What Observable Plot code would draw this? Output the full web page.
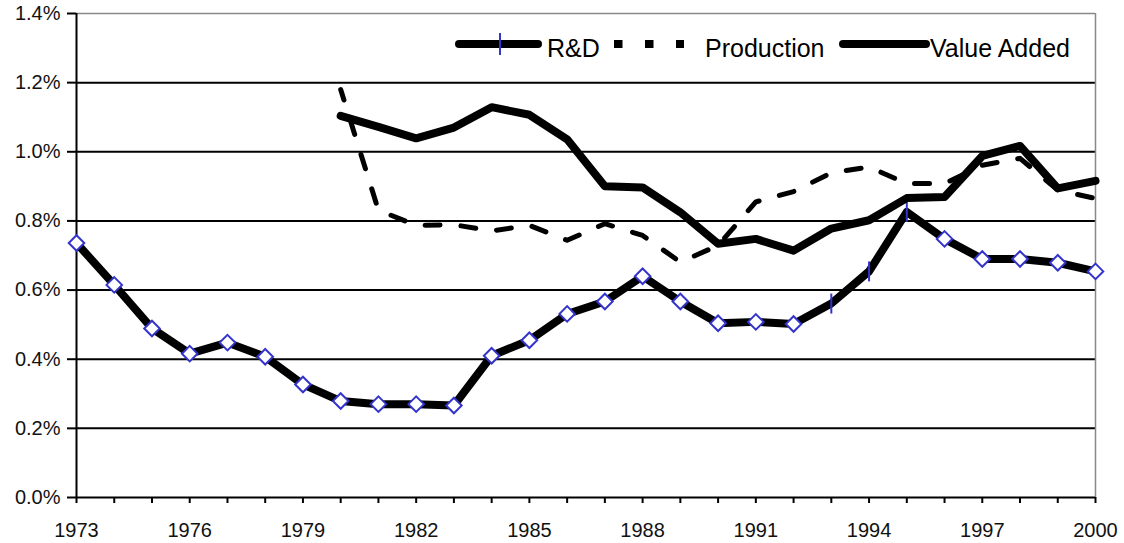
<!DOCTYPE html>
<html>
<head>
<meta charset="utf-8">
<script src="https://cdn.jsdelivr.net/npm/d3@7"></script>
<script src="https://cdn.jsdelivr.net/npm/@observablehq/plot@0.6"></script>
<style>
  html, body { margin: 0; padding: 0; background: #fff; }
  #wrap { position: relative; width: 1124px; height: 543px; font-family: "Liberation Sans", Arial, sans-serif; }
  #legend { position: absolute; left: 0; top: 0; pointer-events: none; }
</style>
</head>
<body>
<div id="wrap"></div>
<script>
// ---- data (in %) ----
const years = [1973,1974,1975,1976,1977,1978,1979,1980,1981,1982,1983,1984,1985,1986,1987,1988,1989,1990,1991,1992,1993,1994,1995,1996,1997,1998,1999,2000];
const rdValues = [0.736,0.615,0.489,0.416,0.448,0.407,0.327,0.279,0.270,0.270,0.266,0.410,0.455,0.531,0.567,0.640,0.567,0.504,0.508,0.502,0.561,0.654,0.826,0.748,0.690,0.690,0.679,0.654];
const rdTickYears = [1993,1994,1995];
const laterYears = [1980,1981,1982,1983,1984,1985,1986,1987,1988,1989,1990,1991,1992,1993,1994,1995,1996,1997,1998,1999,2000];
const productionValues = [1.18,0.831,0.787,0.789,0.771,0.787,0.744,0.792,0.758,0.681,0.729,0.855,0.885,0.939,0.956,0.908,0.908,0.961,0.981,0.889,0.865];
const valueAddedValues = [1.104,1.072,1.039,1.070,1.129,1.107,1.036,0.900,0.897,0.825,0.734,0.748,0.714,0.778,0.802,0.866,0.869,0.988,1.017,0.894,0.916];
const yTicks = [0,0.2,0.4,0.6,0.8,1.0,1.2,1.4];
const xLabelYears = [1973,1976,1979,1982,1985,1988,1991,1994,1997,2000];
const seriesNames = ["R&D","Production","Value Added"];

const rd = years.map((y,i) => ({year:y, v:rdValues[i], tick: rdTickYears.includes(y)}));
const prod = laterYears.map((y,i) => ({year:y, v:productionValues[i]}));
const va = laterYears.map((y,i) => ({year:y, v:valueAddedValues[i]}));

const blue = "#3434cc";
const vTick = { draw(ctx, size) { const h = Math.sqrt(size / Math.PI); ctx.moveTo(0, -h); ctx.lineTo(0, h); } };

const chart = Plot.plot({
  width: 1124, height: 543,
  marginLeft: 76, marginRight: 29, marginTop: 13, marginBottom: 46,
  style: { fontFamily: "Liberation Sans, Arial, sans-serif", fontSize: "20px", color: "#111", background: "#fff" },
  x: { type: "linear", domain: [1973, 2000] },
  y: { domain: [0, 1.4] },
  marks: [
    Plot.ruleY(yTicks.filter(d => d > 0 && d < 1.4), { stroke: "#000", strokeWidth: 2 }),
    Plot.ruleY([1.4], { stroke: "#888", strokeWidth: 1.5 }),
    Plot.ruleX([2000], { stroke: "#888", strokeWidth: 1.5 }),
    Plot.axisY({ ticks: yTicks, tickFormat: d => d.toFixed(1) + "%", tickSize: 9, tickPadding: 7, stroke: "#000", strokeWidth: 2, label: null, fontSize: 20 }),
    Plot.axisX({ ticks: years, tickFormat: d => xLabelYears.includes(d) ? String(d) : "", tickSize: 6, tickPadding: 19, stroke: "#000", strokeWidth: 2, label: null, fontSize: 20 }),
    Plot.ruleX([1973], { stroke: "#000", strokeWidth: 2 }),
    Plot.ruleY([0], { stroke: "#000", strokeWidth: 2 }),
    Plot.line(rd, { x: "year", y: "v", stroke: "#000", strokeWidth: 8, strokeLinejoin: "round", strokeLinecap: "round" }),
    Plot.dot(rd.filter(d => !d.tick), { x: "year", y: "v", symbol: "diamond2", r: 7, fill: "#fff", stroke: blue, strokeWidth: 2 }),
    Plot.dot(rd.filter(d => d.tick), { x: "year", y: "v", symbol: vTick, r: 10, stroke: blue, strokeWidth: 2 }),
    Plot.line(prod, { x: "year", y: "v", stroke: "#000", strokeWidth: 5, strokeDasharray: "15,21", strokeDashoffset: 4 }),
    Plot.line(va, { x: "year", y: "v", stroke: "#000", strokeWidth: 8, strokeLinejoin: "round", strokeLinecap: "round" })
  ]
});
chart.querySelectorAll("text").forEach(t => {
  t.style.fontSize = "20px";
  t.style.fontFamily = "Liberation Sans, Arial, sans-serif";
  t.style.fill = "#111";
});
const wrap = document.getElementById("wrap");
wrap.appendChild(chart);

// ---- legend (overlay) ----
const ns = "http://www.w3.org/2000/svg";
const lg = document.createElementNS(ns, "svg");
lg.setAttribute("id", "legend");
lg.setAttribute("width", 1124); lg.setAttribute("height", 80);
function el(tag, attrs, parent) {
  const e = document.createElementNS(ns, tag);
  for (const k in attrs) e.setAttribute(k, attrs[k]);
  parent.appendChild(e);
  return e;
}
const ly = 44;
el("line", {x1: 459, x2: 538, y1: ly, y2: ly, stroke: "#000", "stroke-width": 8, "stroke-linecap": "round"}, lg);
el("line", {x1: 500, x2: 500, y1: ly - 11, y2: ly + 11, stroke: blue, "stroke-width": 2}, lg);
el("text", {x: 547, y: 57, "font-size": 25, "font-family": "Liberation Sans, Arial, sans-serif", fill: "#000"}, lg).textContent = seriesNames[0];
el("line", {x1: 614, x2: 684, y1: ly, y2: ly, stroke: "#000", "stroke-width": 8, "stroke-dasharray": "8.5,22.5"}, lg);
el("text", {x: 705, y: 57, "font-size": 25, "font-family": "Liberation Sans, Arial, sans-serif", fill: "#000"}, lg).textContent = seriesNames[1];
el("line", {x1: 843, x2: 926, y1: ly, y2: ly, stroke: "#000", "stroke-width": 8, "stroke-linecap": "round"}, lg);
el("text", {x: 930, y: 57, "font-size": 25, "font-family": "Liberation Sans, Arial, sans-serif", fill: "#000"}, lg).textContent = seriesNames[2];
wrap.appendChild(lg);
</script>
</body>
</html>
